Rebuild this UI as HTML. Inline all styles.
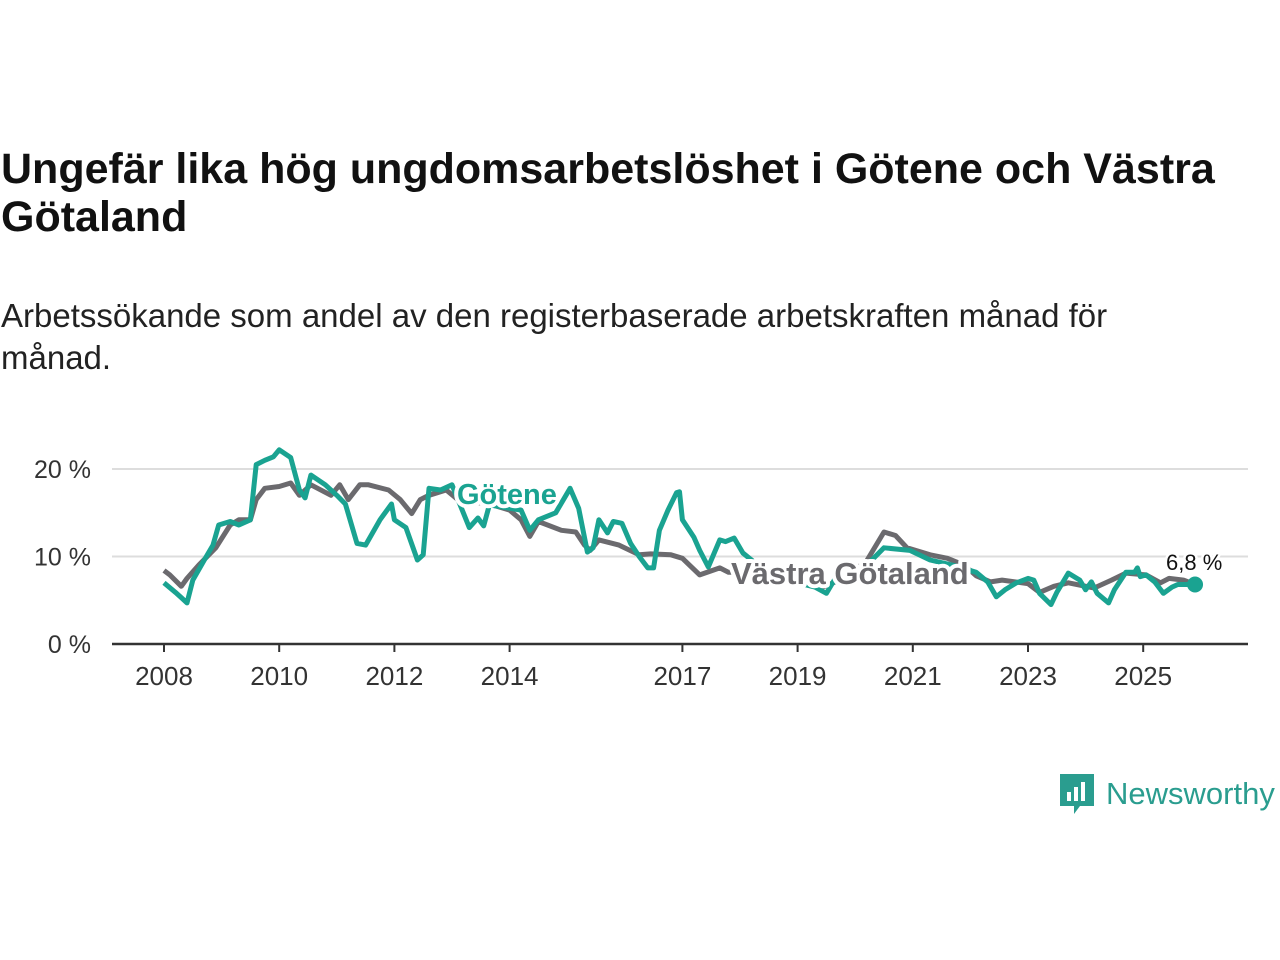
<!DOCTYPE html>
<html><head><meta charset="utf-8"><style>
body{margin:0;width:1280px;height:960px;background:#fff;overflow:hidden;font-family:"Liberation Sans","DejaVu Sans",sans-serif}
#title{position:absolute;left:1px;top:145px;font-size:43px;font-weight:bold;line-height:48px;color:#111;width:1275px}
#sub{position:absolute;left:1px;top:295px;font-size:33px;line-height:42px;color:#222;width:1190px}
svg{position:absolute;left:0;top:0}
</style></head><body>
<div id="title">Ungefär lika hög ungdomsarbetslöshet i Götene och Västra Götaland</div>
<div id="sub">Arbetssökande som andel av den registerbaserade arbetskraften månad för månad.</div>
<svg id="chart" width="1280" height="960"></svg>
<div style="position:absolute;left:1060px;top:772px;display:flex;align-items:center">
<svg width="34" height="44" style="position:static"><path d="M0 2h34v32H20l-6 8v-8H0z" fill="#2a9d8f"/><rect x="7" y="20" width="4" height="9" fill="#fff"/><rect x="14" y="15" width="4" height="14" fill="#fff"/><rect x="21" y="10" width="4" height="19" fill="#fff"/></svg>
<span style="margin-left:12px;font-size:31px;color:#2a9d8f">Newsworthy</span></div>
<script>
const xTicks=[2008,2010,2012,2014,2017,2019,2021,2023,2025];
const yTicks=[0,10,20];
const vgDates=[2008.0,2008.1,2008.3,2008.4,2008.6,2008.9,2009.15,2009.3,2009.5,2009.6,2009.75,2010.0,2010.2,2010.35,2010.55,2010.9,2011.05,2011.2,2011.4,2011.55,2011.9,2012.1,2012.3,2012.45,2012.6,2012.9,2013.1,2013.4,2013.65,2014.0,2014.2,2014.35,2014.5,2014.9,2015.15,2015.3,2015.4,2015.55,2015.9,2016.25,2016.45,2016.8,2017.0,2017.3,2017.65,2017.8,2018.2,2018.6,2019.0,2019.4,2019.8,2020.2,2020.5,2020.7,2020.9,2021.05,2021.3,2021.6,2021.9,2022.1,2022.35,2022.55,2023.0,2023.2,2023.45,2023.7,2024.15,2024.45,2024.7,2025.05,2025.3,2025.45,2025.7,2025.9];
const vgValues=[8.4,7.9,6.6,7.5,9.0,11,13.6,14.2,14.2,16.5,17.8,18,18.4,17,18.2,17,18.2,16.5,18.2,18.2,17.6,16.5,14.9,16.5,17,17.6,16.5,16.2,16,15.3,14.2,12.3,14,13,12.8,11.3,10.7,11.9,11.3,10.2,10.3,10.2,9.8,7.9,8.7,8.2,8.2,7.6,7.4,6.4,7.5,9.5,12.8,12.4,11,10.7,10.2,9.8,9,7.8,7.1,7.3,6.9,5.9,6.6,7,6.4,7.3,8.1,7.9,7,7.5,7.3,6.8];
const gDates=[2008.0,2008.2,2008.3,2008.4,2008.5,2008.7,2008.85,2008.95,2009.15,2009.3,2009.5,2009.6,2009.75,2009.9,2010.0,2010.2,2010.35,2010.45,2010.55,2010.8,2011.0,2011.15,2011.35,2011.5,2011.75,2011.95,2012.0,2012.2,2012.4,2012.5,2012.6,2012.8,2013.0,2013.3,2013.45,2013.55,2013.65,2014.2,2014.35,2014.5,2014.8,2015.05,2015.2,2015.35,2015.45,2015.55,2015.7,2015.8,2015.95,2016.1,2016.25,2016.4,2016.5,2016.6,2016.75,2016.9,2016.95,2017.0,2017.2,2017.3,2017.45,2017.65,2017.75,2017.9,2018.05,2018.5,2019.0,2019.3,2019.5,2019.7,2020.2,2020.5,2020.95,2021.3,2021.7,2022.1,2022.3,2022.45,2022.6,2022.8,2023.0,2023.1,2023.2,2023.4,2023.5,2023.7,2023.9,2024.0,2024.1,2024.2,2024.4,2024.5,2024.7,2024.85,2024.9,2024.95,2025.05,2025.2,2025.35,2025.5,2025.6,2025.9];
const gValues=[7,5.9,5.3,4.7,7.3,9.6,11.3,13.6,14,13.6,14.2,20.5,21,21.4,22.2,21.3,17.6,16.7,19.3,18.2,17,16,11.5,11.3,14.2,16,14.2,13.3,9.6,10.2,17.8,17.6,18.2,13.3,14.4,13.5,15.9,15.3,13,14.2,15,17.8,15.5,10.5,11,14.2,12.7,14,13.8,11.5,10,8.7,8.7,13,15.3,17.3,17.4,14.2,12.2,10.7,8.8,11.9,11.7,12.1,10.4,8,7,6.5,5.8,8,9,11,10.7,9.6,9,8.2,7.1,5.4,6.2,7,7.5,7.3,5.8,4.5,5.9,8.1,7.3,6.2,7.1,5.8,4.7,6.2,8.2,8.2,8.7,7.7,7.9,7.1,5.8,6.5,6.8,6.8];
const NS="http://www.w3.org/2000/svg",svg=document.getElementById('chart');
const X=y=>164+(y-2008)*57.6, Y=v=>644-v*8.75;
function mk(t,a,p){const e=document.createElementNS(NS,t);for(const k in a)e.setAttribute(k,a[k]);(p||svg).appendChild(e);return e;}
yTicks.forEach(v=>{
 if(v>0){const l=mk('line',{x1:112,x2:1248,y1:Y(v),y2:Y(v),stroke:'#ddd','stroke-width':2});
 
 }
 const t=mk('text',{x:91,y:Y(v)+9,'text-anchor':'end','font-size':25,fill:'#333'});t.textContent=v+' %';
 
 
});
const ax=mk('line',{x1:112,x2:1248,y1:644,y2:644,stroke:'#333','stroke-width':2.5});


xTicks.forEach(yr=>{
 mk('line',{x1:X(yr),x2:X(yr),y1:644,y2:652,stroke:'#333','stroke-width':2});
 const t=mk('text',{x:X(yr),y:685,'text-anchor':'middle','font-size':26,fill:'#333'});t.textContent=yr;
 
 
});
function line(d,v,c,name){const p=mk('path',{d:d.map((x,i)=>(i?'L':'M')+X(x).toFixed(1)+' '+Y(v[i]).toFixed(1)).join(''),fill:'none',stroke:c,'stroke-width':5,'stroke-linejoin':'round'});
 
 }
line(vgDates,vgValues,'#6b6a6e','line-vastra-gotaland');
line(gDates,gValues,'#1aa391','line-gotene');
function lab(x,y,txt,c,name,fs,bold){const t=mk('text',{x:x,y:y,'font-size':fs,'font-weight':bold?'bold':'normal',fill:c,stroke:'#fff','stroke-width':bold?8:5,'paint-order':'stroke','stroke-linejoin':'round'});t.textContent=txt;
 
 }
lab(457,504,'Götene','#1aa391','label-gotene',29,true);
lab(731,584,'Västra Götaland','#6b6a6e','label-vastra-gotaland',31,true);
lab(1166,570,'6,8 %','#111','last-value-label',22,false);
const dot=mk('circle',{cx:X(gDates[gDates.length-1]),cy:Y(gValues[gValues.length-1]),r:8,fill:'#1aa391'});


</script>
</body></html>
